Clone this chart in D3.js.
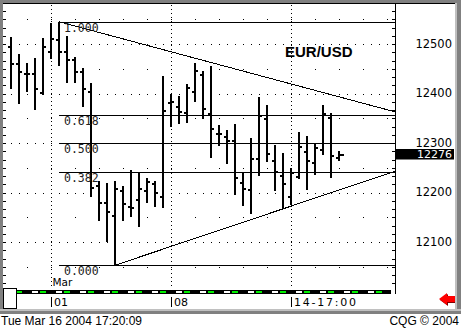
<!DOCTYPE html>
<html><head><meta charset="utf-8">
<script src="https://cdn.jsdelivr.net/npm/d3@7"></script>
<style>html,body{margin:0;padding:0;background:#fff;overflow:hidden}svg{display:block}</style>
</head><body><svg id="c" width="461" height="330"></svg>
<script>
// ---- data ----
const symbol = "EUR/USD";
const opens  = [12494,12460,12439,12439,12401,12484,12508,12484,12468,12443,12404,12214,12178,12153,12204,12170,12185,12204,12217,12191,12381,12373,12360,12404,12437,12358,12318,12313,12305,12219,12205,12268,12348,12264,12234,12190,12231,12282,12259,12286,12350,12270];
const highs  = [12514,12480,12461,12472,12513,12543,12545,12516,12474,12452,12421,12224,12219,12224,12214,12245,12240,12229,12223,12436,12398,12394,12419,12461,12446,12456,12336,12326,12338,12242,12311,12392,12377,12295,12279,12249,12322,12314,12299,12377,12361,12284];
const lows   = [12410,12379,12403,12367,12396,12470,12456,12421,12422,12373,12190,12143,12099,12053,12143,12151,12130,12179,12171,12169,12333,12338,12340,12382,12348,12269,12293,12257,12194,12173,12157,12234,12261,12203,12169,12175,12227,12205,12235,12276,12229,12264];
const closes = [12460,12443,12439,12410,12494,12510,12484,12468,12443,12409,12209,12178,12160,12207,12176,12168,12208,12222,12200,12365,12382,12363,12411,12446,12368,12328,12318,12305,12230,12208,12268,12355,12277,12242,12218,12239,12291,12264,12289,12359,12274,12276];
const lastPrice = 12276;
const priceLabels = [12500,12400,12300,12200,12100];
const halfGrid = [12550,12450,12350,12250,12150,12050];
const fibLevels = [1.000,0.618,0.500,0.382,0.000];
const fibLabels = ["1.000","0.618","0.500","0.382","0.000"];
const fibHigh = 12545, fibLow = 12053, fibStartIdx = 6;
const trendUpper = [[6,12545],[48,12363]];
const trendLower = [[13,12053],[48,12243]];
const dateIdx = [5,20,35];
const dateLabels = ["01","08","14-17:00"];
const monthLabel = "Mar";
const stamp = "Tue Mar 16 2004 17:20:09";
const credit = "CQG \u00A9 2004";

// ---- scales ----
const x = d3.scaleLinear().domain([0,48]).range([11,395]);
const y = d3.scaleLinear().domain([12500,12100]).range([44,242]);
const plotTop = 4, plotBottom = 290, plotRight = 395;

const svg = d3.select("#c");
svg.append("rect").attr("width",461).attr("height",330).attr("fill","#fff");

const g = svg.append("g").attr("shape-rendering","crispEdges");

// dotted horizontal grid
g.selectAll(".hg").data(priceLabels).join("line")
  .attr("x1",x(0)-0.5).attr("x2",plotRight).attr("y1",d=>Math.round(y(d))+0.5).attr("y2",d=>Math.round(y(d))+0.5)
  .attr("stroke","#000").attr("stroke-dasharray","1 7");
g.selectAll(".hg2").data(halfGrid).join("line")
  .attr("x1",x(2)-0.5).attr("x2",plotRight).attr("y1",d=>Math.round(y(d))+0.5).attr("y2",d=>Math.round(y(d))+0.5)
  .attr("stroke","#000").attr("stroke-dasharray","1 23");
// dotted vertical date lines
g.selectAll(".vg").data(dateIdx).join("line")
  .attr("x1",d=>x(d)+0.5).attr("x2",d=>x(d)+0.5).attr("y1",plotTop+1).attr("y2",plotBottom-1)
  .attr("stroke","#000").attr("stroke-dasharray","1 3");

// fib lines
const fibPrice = f => fibLow + f*(fibHigh-fibLow);
g.selectAll(".fib").data(fibLevels).join("line")
  .attr("x1",x(fibStartIdx)).attr("x2",plotRight)
  .attr("y1",d=>Math.round(y(fibPrice(d)))+0.5).attr("y2",d=>Math.round(y(fibPrice(d)))+0.5)
  .attr("stroke","#000");
svg.selectAll(".fibt").data(fibLevels).join("text")
  .attr("x",x(fibStartIdx)+5).attr("y",d=>Math.round(y(fibPrice(d)))+9.5)
  .attr("font-family","DejaVu Sans Mono, monospace").attr("font-size","11.5px").attr("fill","#222")
  .text((d,i)=>fibLabels[i]);

// trendlines
const line = d3.line().x(d=>x(d[0])).y(d=>y(d[1]));
[trendUpper,trendLower].forEach(t=>{
  g.append("path").attr("d",line(t)).attr("fill","none").attr("stroke","#000").attr("stroke-width",1);
});

// OHLC bars
const bars = opens.map((o,i)=>({i,o,h:highs[i],l:lows[i],c:closes[i]}));
g.selectAll(".bar").data(bars).join("rect")
  .attr("x",d=>x(d.i)-1).attr("width",2)
  .attr("y",d=>Math.round(y(d.h))).attr("height",d=>Math.max(2,Math.round(y(d.l))-Math.round(y(d.h))))
  .attr("fill","#000");
g.selectAll(".op").data(bars).join("rect")
  .attr("x",d=>x(d.i)-3).attr("width",2)
  .attr("y",d=>Math.round(y(d.o))-1).attr("height",2).attr("fill","#000");
g.selectAll(".cl").data(bars).join("rect")
  .attr("x",d=>x(d.i)+1).attr("width",d=>d.i===bars.length-1?4:2)
  .attr("y",d=>Math.round(y(d.c))-1).attr("height",2).attr("fill","#000");

// axes ticks
const tickVals = d3.range(12600, 11990, -100/6).filter(v=>y(v)>plotTop+1 && y(v)<plotBottom-1);
const rAx = d3.axisLeft(y).tickValues(tickVals).tickSize(4).tickFormat("");
const ra = svg.append("g").attr("transform",`translate(${plotRight+0.5},0)`).attr("shape-rendering","crispEdges").call(rAx);
ra.select(".domain").remove();
const lAx = d3.axisRight(y).tickValues(tickVals).tickSize(3).tickFormat("");
const la = svg.append("g").attr("transform",`translate(3,0)`).attr("shape-rendering","crispEdges").call(lAx);
la.select(".domain").remove();
svg.selectAll(".tick line").attr("stroke","#000");
svg.append("line").attr("x1",plotRight+0.5).attr("x2",plotRight+0.5).attr("y1",plotTop).attr("y2",plotBottom+4)
  .attr("stroke","#000").attr("shape-rendering","crispEdges");

// price labels
const labAx = d3.axisRight(y).tickValues(priceLabels).tickSize(0).tickFormat(d3.format("d"));
const lab = svg.append("g").attr("transform",`translate(452,0)`).call(labAx);
lab.select(".domain").remove();
lab.selectAll("text").attr("x",0).attr("dy",null).attr("y",3)
  .attr("text-anchor","end").attr("font-family","DejaVu Sans, sans-serif").attr("font-size","11.5px").attr("fill","#000");

// last price box
const yl = Math.round(y(lastPrice));
svg.append("rect").attr("x",396).attr("y",yl-6).attr("width",58).attr("height",10.5).attr("fill","#000");
svg.append("text").attr("x",452).attr("y",yl+3).attr("text-anchor","end")
  .attr("font-family","DejaVu Sans, sans-serif").attr("font-size","11px").attr("fill","#fff").text(lastPrice);

// symbol title
svg.append("text").attr("x",285).attr("y",57).attr("font-family","Liberation Sans, Arial, sans-serif")
  .attr("font-weight","bold").attr("font-size","15px").attr("fill","#000").text(symbol);

// time strip
const strip = svg.append("g").attr("shape-rendering","crispEdges");
strip.append("clipPath").attr("id","sc").append("rect").attr("x",17).attr("y",289).attr("width",374).attr("height",6);
strip.append("rect").attr("x",17).attr("y",290).attr("width",374).attr("height",4).attr("fill","#000");
const dayCenters = d3.range(-1,48,3);
const sg = strip.append("g").attr("clip-path","url(#sc)");
sg.selectAll(".w").data(dayCenters).join("rect").attr("x",d=>x(d)+5).attr("y",291).attr("width",6).attr("height",2).attr("fill","#fff");
sg.selectAll(".gr").data(dayCenters).join("rect").attr("x",d=>x(d)+13).attr("y",291).attr("width",6).attr("height",2).attr("fill","#00f000");

// scroll box
svg.append("rect").attr("x",3.5).attr("y",288.5).attr("width",13).attr("height",20).attr("fill","#fff").attr("stroke","#000").attr("shape-rendering","crispEdges");

// date labels
svg.append("text").attr("x",x(dateIdx[0])+1.5).attr("y",286).attr("font-family","DejaVu Sans, sans-serif").attr("font-size","10.5px").attr("fill","#000").text(monthLabel);
svg.selectAll(".dt").data(dateIdx).join("line")
  .attr("x1",d=>x(d)+0.5).attr("x2",d=>x(d)+0.5).attr("y1",297).attr("y2",307).attr("stroke","#000").attr("shape-rendering","crispEdges");
svg.selectAll(".dl").data(dateIdx).join("text")
  .attr("x",d=>x(d)+3).attr("y",306).attr("font-family","DejaVu Sans, sans-serif").attr("font-size","11px").attr("fill","#000")
  .each(function(d,i){ const t=d3.select(this).text(dateLabels[i]); if(dateLabels[i].length>4) t.attr("textLength",62).attr("lengthAdjust","spacing"); });

// red arrow
const arrow = "M0,6 L8,0 L8,3 L16,3 L16,9 L8,9 L8,12 Z";
svg.append("path").attr("d",arrow).attr("transform","translate(440,294)").attr("fill","#800000");
svg.append("path").attr("d",arrow).attr("transform","translate(439,293)").attr("fill","#ff0000");

// window frame
const fr = svg.append("g").attr("shape-rendering","crispEdges");
fr.append("rect").attr("x",0).attr("y",0).attr("width",461).attr("height",3).attr("fill","#808080");
fr.append("rect").attr("x",3).attr("y",3).attr("width",452).attr("height",1).attr("fill","#000");
fr.append("rect").attr("x",0).attr("y",0).attr("width",3).attr("height",310).attr("fill","#808080");
fr.append("rect").attr("x",455).attr("y",3).attr("width",2).attr("height",307).attr("fill","#c0c0c0");
fr.append("rect").attr("x",457).attr("y",0).attr("width",4).attr("height",314).attr("fill","#808080");
fr.append("rect").attr("x",0).attr("y",309).attr("width",461).attr("height",2).attr("fill","#c0c0c0");
fr.append("rect").attr("x",0).attr("y",311).attr("width",461).attr("height",3).attr("fill","#808080");

// status bar
svg.append("text").attr("x",1).attr("y",325).attr("font-family","Liberation Sans, Arial, sans-serif").attr("font-size","12px").attr("fill","#000").text(stamp);
svg.append("text").attr("x",459).attr("y",325).attr("text-anchor","end").attr("font-family","Liberation Sans, Arial, sans-serif").attr("font-size","12px").attr("fill","#000").text(credit);
</script></body></html>
